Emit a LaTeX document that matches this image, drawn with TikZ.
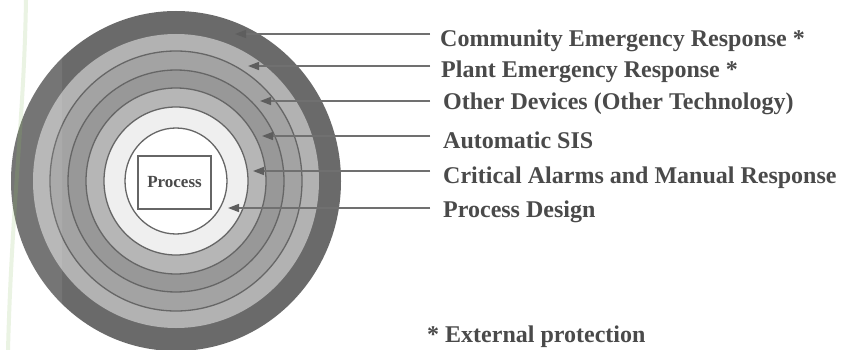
\documentclass[tikz,border=0pt]{standalone}
\usepackage{fontspec}
\setmainfont{Liberation Serif}
\usetikzlibrary{arrows.meta}
\definecolor{ringdark}{HTML}{6A6A6A}
\definecolor{ringA}{HTML}{B2B2B2}
\definecolor{ringB}{HTML}{A3A3A3}
\definecolor{ringC}{HTML}{989898}
\definecolor{ringD}{HTML}{B6B6B6}
\definecolor{ringE}{HTML}{EFEFEF}
\definecolor{ringedge}{HTML}{666666}
\definecolor{leadcol}{HTML}{707070}
\definecolor{tipcol}{HTML}{5E5E5E}
\definecolor{textcol}{HTML}{4A4A4A}
\definecolor{leafgreen}{RGB}{140,190,100}
\begin{document}
\begin{tikzpicture}[x=1pt,y=-1pt,
  ringline/.style={draw=ringedge,line width=1.3pt},
  leader/.style={draw=leadcol,line width=1.6pt,-{Triangle[length=11pt,width=8pt,color=tipcol]}},
  lbl/.style={anchor=base west,inner sep=0pt,font=\bfseries\fontsize{24}{28}\selectfont,text=textcol},
  procbox/.style={draw=ringedge,line width=1.6pt,fill=white,minimum width=73pt,minimum height=53pt,inner sep=0pt,font=\bfseries\fontsize{17}{20}\selectfont,text=textcol}]
\useasboundingbox (0,0) rectangle (842,350);
\fill[white] (0,0) rectangle (842,350);
% rings
\coordinate (c) at (176,181);
\fill[ringdark] (c) ellipse [x radius=165pt, y radius=170pt];
\fill[ringA] (c) ellipse [x radius=143pt, y radius=147pt];
\filldraw[fill=ringB, ringline] (c) ellipse [x radius=126pt, y radius=130pt];
\filldraw[fill=ringC, ringline] (c) ellipse [x radius=108pt, y radius=111pt];
\filldraw[fill=ringD, ringline] (c) ellipse [x radius=90pt, y radius=93pt];
\filldraw[fill=ringE, ringline] (c) ellipse [x radius=72pt, y radius=74pt];
\filldraw[fill=white, ringline] (c) ellipse [x radius=51pt, y radius=53pt];
% lighter band on the left
\begin{scope}
  \clip (0,0) rectangle (62,350);
  \fill[white,opacity=0.08] (c) ellipse [x radius=165pt, y radius=170pt];
\end{scope}
% faint background stripe
\draw[leafgreen,opacity=0.18,line width=4pt] (26,0) .. controls (24,120) and (12,200) .. (8,350);
% process box
\node[procbox] (proc) at (174.5,182.5) {Process};
% labels
\node[lbl] (l1) at (440,47) {Community Emergency Response *};
\node[lbl] (l2) at (441,78) {Plant Emergency Response *};
\node[lbl] (l3) at (443,110) {Other Devices (Other Technology)};
\node[lbl] (l4) at (443,148) {Automatic SIS};
\node[lbl] (l5) at (443,183) {Critical Alarms and Manual Response};
\node[lbl] (l6) at (443,217) {Process Design};
\node[lbl] (ext) at (427,342) {* External protection};
% leader ends and tips
\coordinate (e1) at (430,34);  \coordinate (t1) at (235,34);
\coordinate (e2) at (430,66);  \coordinate (t2) at (248,66);
\coordinate (e3) at (430,101); \coordinate (t3) at (260,101);
\coordinate (e4) at (430,136); \coordinate (t4) at (262,136);
\coordinate (e5) at (430,171); \coordinate (t5) at (253,171);
\coordinate (e6) at (430,208); \coordinate (t6) at (228,208);
\foreach \i in {1,...,6} {\draw[leader] (e\i) -- (t\i);}
\end{tikzpicture}
\end{document}
